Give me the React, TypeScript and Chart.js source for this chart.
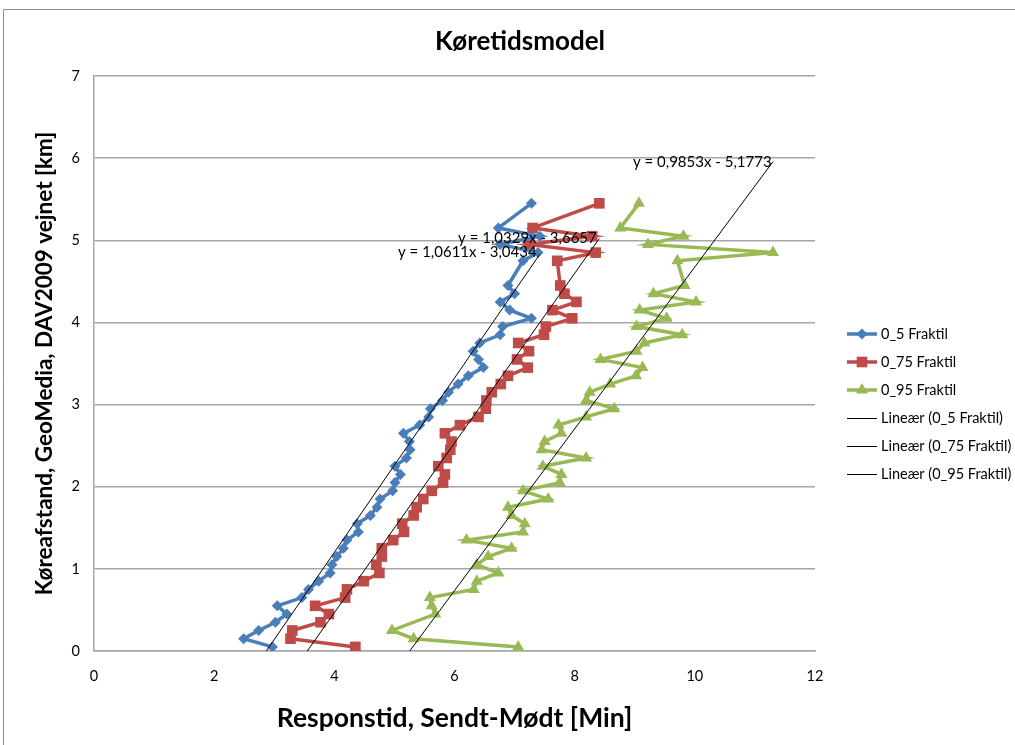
import React, { useEffect, useRef } from "react";
import { Chart, registerables } from "chart.js";

Chart.register(...registerables);

const FONT = "Lato, 'Open Sans', 'DejaVu Sans', sans-serif";

const chartTitle = "Køretidsmodel";
const xAxisTitle = "Responstid, Sendt-Mødt [Min]";
const yAxisTitle = "Køreafstand, GeoMedia, DAV2009 vejnet [km]";

const seriesNames = ["0_5 Fraktil", "0_75 Fraktil", "0_95 Fraktil"];
const trendNames = ["Lineær (0_5 Fraktil)", "Lineær (0_75 Fraktil)", "Lineær (0_95 Fraktil)"];
const seriesColors = ["#4a7ebb", "#be4b48", "#98b954"];
const seriesMarkers = ["rectRot", "rect", "triangle"];

// Køreafstand [km] (y values)
const distance = [
  0.05, 0.15, 0.25, 0.35, 0.45, 0.55, 0.65, 0.75, 0.85, 0.95,
  1.05, 1.15, 1.25, 1.35, 1.45, 1.55, 1.65, 1.75, 1.85, 1.95,
  2.05, 2.15, 2.25, 2.35, 2.45, 2.55, 2.65, 2.75, 2.85, 2.95,
  3.05, 3.15, 3.25, 3.35, 3.45, 3.55, 3.65, 3.75, 3.85, 3.95,
  4.05, 4.15, 4.25, 4.35, 4.45, 4.75, 4.85, 4.95, 5.05, 5.15, 5.45,
];

// Responstid [Min] (x values)
const fraktil05 = [
  2.97, 2.49, 2.74, 3.02, 3.21, 3.05, 3.46, 3.57, 3.74, 3.93,
  3.96, 4.04, 4.15, 4.21, 4.40, 4.38, 4.60, 4.71, 4.76, 4.97,
  5.01, 5.10, 5.01, 5.20, 5.26, 5.25, 5.15, 5.42, 5.57, 5.60,
  5.80, 5.90, 6.06, 6.23, 6.48, 6.40, 6.31, 6.42, 6.76, 6.80,
  7.28, 6.92, 6.76, 7.00, 6.89, 7.14, 7.39, 6.76, 7.42, 6.73, 7.28,
];
const fraktil75 = [
  4.35, 3.27, 3.30, 3.77, 3.91, 3.68, 4.18, 4.21, 4.49, 4.75,
  4.70, 4.79, 4.79, 4.98, 5.16, 5.13, 5.32, 5.37, 5.48, 5.62,
  5.81, 5.84, 5.73, 5.87, 5.93, 5.95, 5.84, 6.09, 6.40, 6.52,
  6.53, 6.62, 6.77, 6.89, 7.22, 7.04, 7.24, 7.06, 7.49, 7.52,
  7.96, 7.63, 8.03, 7.83, 7.76, 7.71, 8.35, 7.24, 8.29, 7.30, 8.41,
];
const fraktil95 = [
  7.06, 5.32, 4.96, null, 5.68, 5.62, 5.59, 6.32, 6.37, 6.73,
  6.37, 6.56, 6.95, 6.20, 7.14, 7.17, 6.95, 6.89, 7.56, 7.14,
  7.75, 7.78, 7.47, 8.19, 7.45, 7.50, 7.78, 7.73, 8.19, 8.66,
  8.19, 8.25, 8.59, 9.02, 9.13, 8.43, 9.03, 9.16, 9.79, 9.03,
  9.53, 9.08, 10.02, 9.31, 9.83, 9.71, 11.30, 9.22, 9.81, 8.76, 9.07,
];

// Lineære tendenslinjer (fra diagrammet)
const trendSlopes = [1.0611, 1.0329, 0.9853];
const trendIntercepts = [-3.0434, -3.6657, -5.1773];
// Placering af ligningerne (i dataenheder: venstre kant x, midte y)
const labelX = [5.06, 6.06, 8.97];
const labelY = [4.85, 5.02, 5.95];

const xTicksMin = 0, xTicksMax = 12, xStep = 2;
const yTicksMin = 0, yTicksMax = 7, yStep = 1;

const fmt = (v: number) => v.toFixed(4).replace(".", ",");

function drawMarker(ctx: CanvasRenderingContext2D, kind: string, x: number, y: number, r: number) {
  ctx.beginPath();
  if (kind === "rectRot") {
    ctx.moveTo(x, y - r); ctx.lineTo(x + r, y); ctx.lineTo(x, y + r); ctx.lineTo(x - r, y);
  } else if (kind === "rect") {
    const s = r * Math.SQRT1_2;
    ctx.rect(x - s, y - s, 2 * s, 2 * s);
  } else {
    const a = -Math.PI / 2;
    for (let i = 0; i < 3; i++) {
      const t = a + (i * 2 * Math.PI) / 3;
      const px = x + Math.cos(t) * r, py = y + Math.sin(t) * r;
      if (i === 0) ctx.moveTo(px, py); else ctx.lineTo(px, py);
    }
  }
  ctx.closePath();
  ctx.fill();
}

const markerRadius = [5.5, 7.5, 7];

const decorPlugin = {
  id: "decor",
  beforeDraw(chart: any) {
    const ctx = chart.ctx as CanvasRenderingContext2D;
    ctx.save();
    ctx.fillStyle = "#ffffff";
    ctx.fillRect(0, 0, chart.width, chart.height);
    ctx.restore();
  },
  afterDraw(chart: any) {
    const ctx = chart.ctx as CanvasRenderingContext2D;
    const xs = chart.scales.x, ys = chart.scales.y;
    ctx.save();
    // outer chart border
    ctx.strokeStyle = "#8c8c8c";
    ctx.lineWidth = 1;
    ctx.beginPath();
    ctx.moveTo(3.5, chart.height);
    ctx.lineTo(3.5, 9.5);
    ctx.lineTo(chart.width, 9.5);
    ctx.stroke();

    // title
    ctx.fillStyle = "#000";
    ctx.font = `bold 26px ${FONT}`;
    ctx.textAlign = "center";
    ctx.textBaseline = "middle";
    ctx.fillText(chartTitle, 520, 42);

    // trend equations
    ctx.font = `15px ${FONT}`;
    ctx.textAlign = "left";
    for (let i = 0; i < 3; i++) {
      const txt = `y = ${fmt(trendSlopes[i])}x - ${fmt(-trendIntercepts[i])}`;
      ctx.fillText(txt, xs.getPixelForValue(labelX[i]), ys.getPixelForValue(labelY[i]));
    }

    // legend
    const lx0 = 847, lx1 = 877, ly0 = 334, dy = 28;
    ctx.font = `14.5px ${FONT}`;
    for (let i = 0; i < 6; i++) {
      const y = ly0 + i * dy;
      if (i < 3) {
        ctx.strokeStyle = seriesColors[i];
        ctx.fillStyle = seriesColors[i];
        ctx.lineWidth = 3.5;
        ctx.beginPath(); ctx.moveTo(lx0, y); ctx.lineTo(lx1, y); ctx.stroke();
        drawMarker(ctx, seriesMarkers[i], (lx0 + lx1) / 2, y, markerRadius[i]);
      } else {
        ctx.strokeStyle = "#000";
        ctx.lineWidth = 1;
        ctx.beginPath(); ctx.moveTo(lx0, y + 0.5); ctx.lineTo(lx1, y + 0.5); ctx.stroke();
      }
      ctx.fillStyle = "#000";
      ctx.fillText(i < 3 ? seriesNames[i] : trendNames[i - 3], 881, y);
    }
    ctx.restore();
  },
};

export default function App() {
  const ref = useRef<HTMLCanvasElement | null>(null);
  useEffect(() => {
    if (!ref.current) return;
    const seriesX = [fraktil05, fraktil75, fraktil95];
    const seriesData = seriesX.map((xsArr) =>
      xsArr
        .map((x, i) => (x === null ? null : { x: x as number, y: distance[i] }))
        .filter((p) => p !== null)
    );
    const trendData = seriesX.map((xsArr, i) => {
      const vals = xsArr.filter((v) => v !== null) as number[];
      const mn = Math.min(...vals), mx = Math.max(...vals);
      return [
        { x: mn, y: trendSlopes[i] * mn + trendIntercepts[i] },
        { x: mx, y: trendSlopes[i] * mx + trendIntercepts[i] },
      ];
    });
    const datasets: any[] = [];
    for (let i = 0; i < 3; i++) {
      datasets.push({
        label: trendNames[i],
        data: trendData[i],
        showLine: true,
        borderColor: "#000",
        borderWidth: 1,
        pointRadius: 0,
        order: 0,
      });
    }
    for (let i = 0; i < 3; i++) {
      datasets.push({
        label: seriesNames[i],
        data: seriesData[i],
        showLine: true,
        borderColor: seriesColors[i],
        backgroundColor: seriesColors[i],
        borderWidth: 3.5,
        pointStyle: seriesMarkers[i],
        pointRadius: markerRadius[i],
        pointBorderWidth: 0,
        pointBackgroundColor: seriesColors[i],
        order: 1,
      });
    }
    const chart = new Chart(ref.current, {
      type: "scatter",
      data: { datasets },
      plugins: [decorPlugin],
      options: {
        responsive: false,
        animation: false,
        devicePixelRatio: 1,
        layout: { padding: { left: 0, right: 200, top: 76, bottom: 0 } },
        plugins: { legend: { display: false }, title: { display: false }, tooltip: { enabled: false } },
        scales: {
          x: {
            type: "linear",
            min: xTicksMin,
            max: xTicksMax,
            ticks: { stepSize: xStep, padding: 17, color: "#000", font: { family: FONT, size: 14.5 } },
            grid: { display: false, drawTicks: false },
            border: { display: true, color: "#a6a6a6", width: 1.5 },
            title: {
              display: true,
              text: xAxisTitle,
              color: "#000",
              font: { family: FONT, size: 26.5, weight: "bold" },
              padding: { top: 0, bottom: 11 },
            },
            afterFit: (s: any) => { s.height = 94; },
          },
          y: {
            type: "linear",
            min: yTicksMin,
            max: yTicksMax,
            ticks: { stepSize: yStep, padding: 14, color: "#000", font: { family: FONT, size: 14.5 } },
            grid: { color: "#a6a6a6", lineWidth: 1.5, drawTicks: false },
            border: { display: true, color: "#a6a6a6", width: 1.5 },
            title: {
              display: true,
              text: yAxisTitle,
              color: "#000",
              font: { family: FONT, size: 22.5, weight: "bold" },
              padding: { top: 31, bottom: 0 },
            },
            afterFit: (s: any) => { s.width = 94; },
          },
        },
      } as any,
    });
    return () => chart.destroy();
  }, []);
  return (
    <div style={{ position: "fixed", left: 0, top: 0, width: 1015, height: 745, background: "#fff" }}>
      <canvas ref={ref} width={1015} height={745} />
    </div>
  );
}
